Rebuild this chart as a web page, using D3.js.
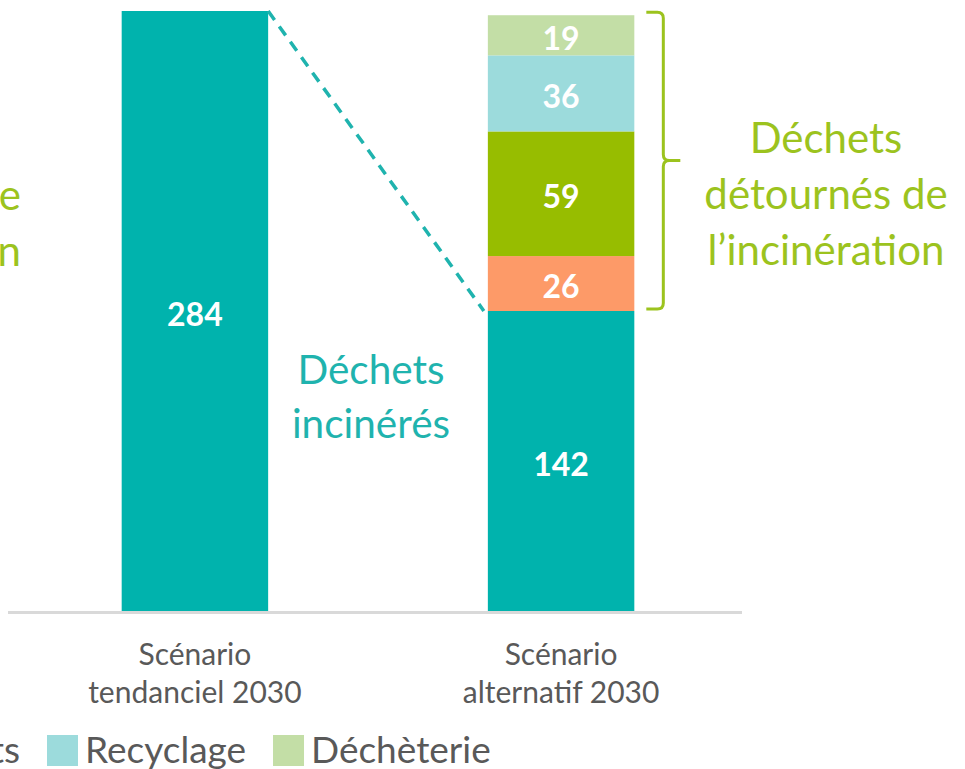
<!DOCTYPE html>
<html lang="fr">
<head>
<meta charset="UTF-8">
<title>Déchets incinérés – scénarios 2030</title>
<script src="https://cdnjs.cloudflare.com/ajax/libs/d3/7.8.5/d3.min.js"></script>
<style>
  body { margin: 0; background: #fff; }
  svg { display: block; font-family: Lato, 'Open Sans', sans-serif; }
  .value { fill: #fff; font-weight: bold; font-size: 32px; text-anchor: middle; }
  .cat { fill: #595959; font-size: 30px; text-anchor: middle; }
  .legend text { fill: #595959; font-size: 37px; }
</style>
</head>
<body>
<svg id="chart" width="965" height="769"></svg>
<script>
"use strict";

// data
const categories = ["Scénario tendanciel 2030", "Scénario alternatif 2030"];
const seriesNames = ["Incinération", "Prévention", "Biodéchets", "Recyclage", "Déchèterie"];
const seriesColors = ["#00b3ad", "#fd9a68", "#97bd00", "#9cdbdc", "#c3dea6"];
const tendanciel = [284, 0, 0, 0, 0];
const alternatif = [142, 26, 59, 36, 19];

const teal = "#1fb3ae";
const green = "#9cc31e";

const svg = d3.select("#chart");

const x = d3.scaleBand()
    .domain(categories)
    .range([10, 746])
    .paddingInner(0.6)
    .paddingOuter(0.305);

const y = d3.scaleLinear()
    .domain([0, 284])
    .range([611, 11]);

const rows = [tendanciel, alternatif].map((vals, i) => {
    const row = { cat: categories[i] };
    seriesNames.forEach((s, j) => row[s] = vals[j]);
    return row;
});

const stack = d3.stack().keys(seriesNames)(rows);

// bars
const layers = svg.append("g").selectAll("g")
    .data(stack)
    .join("g")
    .attr("fill", (d, i) => seriesColors[i]);

layers.selectAll("rect")
    .data(d => d.filter(p => p[1] > p[0]))
    .join("rect")
    .attr("x", d => x(d.data.cat))
    .attr("width", x.bandwidth())
    .attr("y", d => y(d[1]))
    .attr("height", d => y(d[0]) - y(d[1]));

// values in bars
layers.selectAll("text")
    .data(d => d.filter(p => p[1] > p[0]))
    .join("text")
    .attr("class", "value")
    .attr("x", d => x(d.data.cat) + x.bandwidth() / 2)
    .attr("y", d => (y(d[0]) + y(d[1])) / 2)
    .attr("dy", "0.46em")
    .text(d => d[1] - d[0]);

// axis line
svg.append("line")
    .attr("x1", 8).attr("x2", 742)
    .attr("y1", y(0) + 1.5).attr("y2", y(0) + 1.5)
    .attr("stroke", "#d9d9d9")
    .attr("stroke-width", 3);

// category labels (two lines each)
const catLabels = svg.append("g").selectAll("text")
    .data(categories)
    .join("text")
    .attr("class", "cat")
    .attr("x", d => x(d) + x.bandwidth() / 2)
    .attr("y", 665);
catLabels.each(function (d) {
    const words = d.split(" ");
    const t = d3.select(this);
    t.append("tspan").attr("x", t.attr("x")).text(words[0]);
    t.append("tspan").attr("x", t.attr("x")).attr("dy", 38).text(words.slice(1).join(" "));
});

// dashed link between the incinerated tops
const alt = categories[1], ten = categories[0];
svg.append("line")
    .attr("x1", x(ten) + x.bandwidth())
    .attr("y1", y(d3.sum(tendanciel)))
    .attr("x2", x(alt) - 4)
    .attr("y2", y(alternatif[0]))
    .attr("stroke", teal)
    .attr("stroke-width", 3.5)
    .attr("stroke-dasharray", "11,8");

// bracket for diverted waste
const bx = x(alt) + x.bandwidth();
const bTop = y(d3.sum(alternatif)) - 3;
const bBot = y(alternatif[0]) - 2;
const bMid = (bTop + bBot) / 2;
const r = 6;
svg.append("path")
    .attr("fill", "none")
    .attr("stroke", green)
    .attr("stroke-width", 3)
    .attr("d", `M${bx + 12},${bTop} H${bx + 29 - r} Q${bx + 29},${bTop} ${bx + 29},${bTop + r}
                V${bMid - r} Q${bx + 29},${bMid} ${bx + 29 + r},${bMid} H${bx + 46}
                M${bx + 29 + r},${bMid} Q${bx + 29},${bMid} ${bx + 29},${bMid + r}
                V${bBot - r} Q${bx + 29},${bBot} ${bx + 29 - r},${bBot} H${bx + 12}`);

// annotations
function multiline(lines, cx, y0, lh, color, size, anchor) {
    const t = svg.append("text")
        .attr("fill", color)
        .attr("font-size", size)
        .attr("text-anchor", anchor || "middle");
    lines.forEach((l, i) => t.append("tspan").attr("x", cx).attr("y", y0 + i * lh).text(l));
}
multiline(["Déchets", "incinérés"], 371, 384, 54, teal, 40.5);
multiline(["Déchets", "détournés de", "l’incinération"], 826, 153, 56, green, 42);
multiline(["Potentiel de", "prévention"], 21, 210, 56, green, 42, "end");

// legend, anchored on the Recyclage swatch
const legend = svg.append("g").attr("class", "legend");
const items = legend.selectAll("g")
    .data(seriesNames)
    .join("g");
items.append("rect")
    .attr("width", 31).attr("height", 31)
    .attr("y", 735)
    .attr("fill", (d, i) => seriesColors[i]);
items.append("text")
    .attr("x", 38)
    .attr("y", 763)
    .text(d => d);

const widths = [];
items.select("text").each(function () { widths.push(this.getComputedTextLength()); });
const gap = 27;
const pos = [];
const anchorIdx = seriesNames.indexOf("Recyclage");
pos[anchorIdx] = 47;
for (let i = anchorIdx + 1; i < seriesNames.length; i++) pos[i] = pos[i - 1] + 38 + widths[i - 1] + gap;
for (let i = anchorIdx - 1; i >= 0; i--) pos[i] = pos[i + 1] - gap - widths[i] - 38;
items.attr("transform", (d, i) => `translate(${pos[i]},0)`);
</script>
</body>
</html>
